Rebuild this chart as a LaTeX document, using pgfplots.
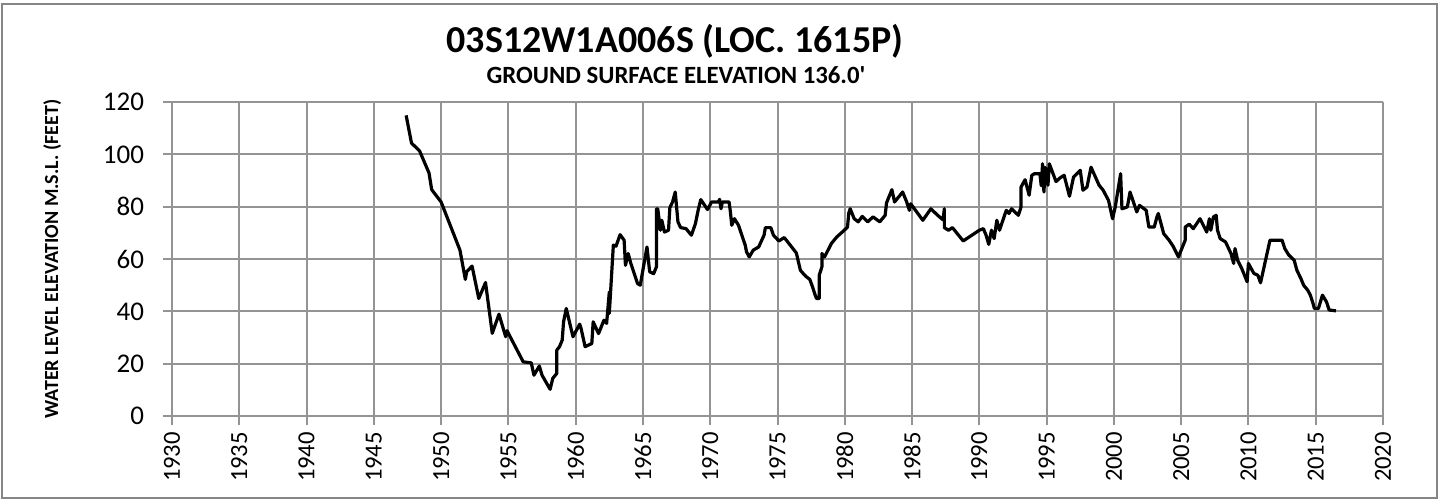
\documentclass[border=0pt]{standalone}
\usepackage{fontspec}
\setmainfont{Carlito}
\usepackage{pgfplots}
\pgfplotsset{compat=1.18}
\definecolor{gridgray}{RGB}{148,148,148}
\definecolor{framegray}{RGB}{134,134,134}

\pgfplotstableread{
year level
1947.4 114.9
1947.8 104.3
1948.4 101.3
1949.1 92.9
1949.3 86.5
1950.0 81.8
1951.4 63.4
1951.8 52.2
1951.9 55.1
1952.3 57.3
1952.8 44.9
1953.3 51.0
1953.8 31.6
1954.3 38.9
1954.8 30.3
1954.9 32.6
1956.1 20.7
1956.7 20.3
1956.9 15.6
1957.3 19.1
1957.5 15.6
1958.1 10.2
1958.3 14.4
1958.6 16.3
1958.6 25.2
1958.8 26.5
1959.0 29.0
1959.1 36.0
1959.3 41.1
1959.8 30.3
1960.3 35.1
1960.4 33.5
1960.7 26.5
1961.2 27.7
1961.3 36.0
1961.7 31.5
1962.1 36.6
1962.3 35.4
1962.5 47.4
1962.5 39.2
1962.8 65.3
1963.0 64.9
1963.3 69.3
1963.6 67.2
1963.7 57.6
1963.9 62.1
1964.1 58.3
1964.6 50.6
1964.8 50.0
1965.3 64.6
1965.5 55.1
1965.8 54.4
1966.0 57.0
1966.0 79.2
1966.0 69.1
1966.1 79.2
1966.3 71.0
1966.4 74.8
1966.6 70.3
1966.9 71.0
1967.0 79.6
1967.2 81.8
1967.4 85.6
1967.6 74.2
1967.8 72.0
1968.2 71.6
1968.6 69.1
1968.9 73.5
1969.1 78.6
1969.3 82.7
1969.8 78.9
1970.1 81.8
1970.6 81.8
1970.7 82.8
1970.8 79.2
1970.9 81.8
1971.4 81.8
1971.5 78.0
1971.6 72.9
1971.8 75.4
1972.1 72.9
1972.6 65.3
1972.7 62.7
1972.9 60.8
1973.2 63.4
1973.6 64.6
1974.0 69.1
1974.1 72.0
1974.5 72.0
1974.7 69.1
1975.1 66.9
1975.5 68.2
1975.9 65.6
1976.4 62.3
1976.7 55.7
1976.9 54.5
1977.1 53.4
1977.4 52.2
1977.6 49.4
1977.8 46.2
1977.9 44.9
1978.1 44.9
1978.1 53.8
1978.3 57.0
1978.3 62.1
1978.5 60.8
1979.0 65.9
1979.4 68.4
1979.9 70.7
1980.2 72.2
1980.3 77.6
1980.4 79.2
1980.7 75.4
1981.0 74.2
1981.3 76.3
1981.7 74.2
1982.1 76.1
1982.6 74.2
1983.0 76.7
1983.1 81.4
1983.5 86.5
1983.7 81.8
1984.3 85.6
1984.6 81.8
1984.8 78.6
1984.9 81.1
1985.8 74.8
1986.4 79.2
1986.9 76.7
1987.3 75.0
1987.4 79.2
1987.4 72.0
1987.7 71.0
1988.0 72.0
1988.8 66.9
1990.0 71.0
1990.3 71.6
1990.5 69.1
1990.7 65.6
1990.9 71.0
1991.1 67.8
1991.3 74.8
1991.5 71.0
1992.0 78.6
1992.2 77.4
1992.4 79.2
1992.9 76.7
1993.1 79.9
1993.1 87.5
1993.4 90.3
1993.7 84.4
1993.9 92.0
1994.1 92.6
1994.5 92.6
1994.6 88.0
1994.7 96.4
1994.8 85.6
1994.9 95.0
1995.1 88.2
1995.2 96.4
1995.7 89.6
1996.0 91.0
1996.3 92.0
1996.7 84.0
1997.0 91.3
1997.5 93.9
1997.7 86.3
1998.0 87.5
1998.3 95.1
1998.9 88.2
1999.2 86.3
1999.6 82.4
1999.9 75.4
2000.1 79.9
2000.5 92.6
2000.6 79.2
2001.0 79.9
2001.2 85.6
2001.7 78.0
2001.9 80.5
2002.4 78.6
2002.6 72.2
2003.0 72.2
2003.2 76.1
2003.3 77.4
2003.7 69.7
2004.1 67.2
2004.4 64.9
2004.8 60.8
2005.3 67.2
2005.3 72.2
2005.6 73.3
2005.9 71.6
2006.4 75.4
2006.9 70.3
2007.1 75.4
2007.2 71.0
2007.4 76.1
2007.6 76.7
2007.7 71.0
2007.9 67.8
2008.3 66.5
2008.7 62.1
2008.9 58.3
2009.0 64.0
2009.2 59.5
2009.5 56.4
2009.9 51.3
2010.0 58.3
2010.4 54.5
2010.7 53.8
2010.9 50.9
2011.6 67.2
2012.5 67.2
2012.7 64.0
2013.0 61.5
2013.4 59.5
2013.6 55.7
2013.9 52.5
2014.1 50.0
2014.4 48.1
2014.6 46.2
2014.8 43.0
2014.9 41.1
2015.2 41.1
2015.5 46.2
2015.8 43.6
2016.0 40.5
2016.5 40.2
}\welldata

\begin{document}
\begin{tikzpicture}
% one pixel of the reference = 0.5pt
\useasboundingbox (0,0) rectangle (724pt,250pt);
\draw[framegray,line width=1pt] (1pt,1pt) rectangle (718.5pt,248pt);

\begin{axis}[
  at={(86pt,42pt)},
  anchor=south west,
  scale only axis,
  width=605.5pt,
  height=157pt,
  xmin=1930, xmax=2020,
  ymin=0, ymax=120,
  xtick={1930,1935,...,2020},
  ytick={0,20,...,120},
  grid=major,
  grid style={gridgray,line width=1pt},
  axis line style={gridgray,line width=1pt},
  tick style={gridgray,line width=1pt},
  tick align=outside,
  major tick length=4.5pt,
  axis x line*=bottom,
  axis y line*=left,
  /pgf/number format/assume math mode=true,
  /pgf/number format/1000 sep={},
  x tick label style={font=\fontsize{12.3}{14}\selectfont,rotate=90,anchor=east},
  y tick label style={font=\fontsize{13.5}{15}\selectfont,xshift=-6pt},
  clip=false,
]
\addplot[black,line width=1.6pt,line join=round] table[x=year,y=level] {\welldata};
\end{axis}

\node[anchor=base,font=\fontsize{19}{22}\selectfont\bfseries] at (337.5pt,224pt)
  {03S12W1A006S (LOC. 1615P)};
\node[anchor=base,font=\fontsize{12.4}{14}\selectfont\bfseries] at (338pt,208.5pt)
  {GROUND SURFACE ELEVATION 136.0{\addfontfeatures{Ligatures=TeXOff}'}};
\node[anchor=base,rotate=90,font=\fontsize{10}{12}\selectfont\bfseries] at (29pt,120.5pt)
  {WATER LEVEL ELEVATION M.S.L. (FEET)};
\end{tikzpicture}
\end{document}
